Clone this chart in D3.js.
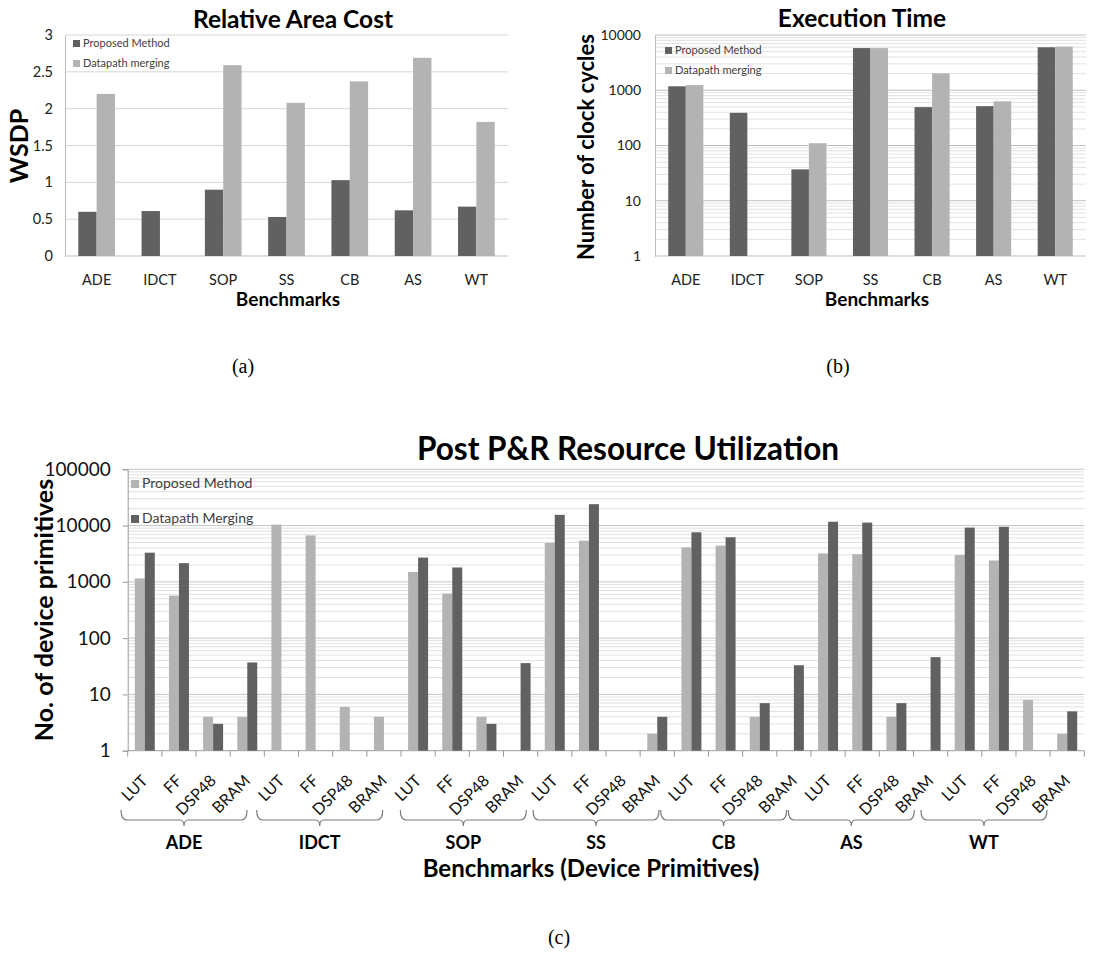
<!DOCTYPE html>
<html><head><meta charset="utf-8">
<script src="https://cdn.jsdelivr.net/npm/d3@7"></script>
<style>
body{margin:0;background:#fff;}
svg{display:block;font-family:Lato,"Open Sans",sans-serif;}
</style></head>
<body><svg id="c" width="1107" height="955"></svg>
<script>
// ---------- data ----------
const benchmarks = ["ADE","IDCT","SOP","SS","CB","AS","WT"];
const areaProposed = [0.60, 0.61, 0.90, 0.53, 1.03, 0.62, 0.67];
const areaDatapath = [2.20, 0, 2.59, 2.08, 2.37, 2.69, 1.82];
const areaTicks = [0, 0.5, 1, 1.5, 2, 2.5, 3];
const timeProposed = [1180, 390, 37, 5800, 495, 515, 6000];
const timeDatapath = [1240, null, 110, 5800, 2020, 630, 6150];
const timeTicks = [1, 10, 100, 1000, 10000];
const primitives = ["LUT","FF","DSP48","BRAM"];
const resProposed = [
  [1150, 570, 4, 4],
  [10400, 6700, 6, 4],
  [1500, 620, 4, null],
  [4900, 5400, null, 2],
  [4100, 4400, 4, null],
  [3200, 3100, 4, null],
  [3000, 2400, 8, 2]
];
const resDatapath = [
  [3300, 2150, 3, 37],
  [null, null, null, null],
  [2700, 1800, 3, 36],
  [15500, 24000, null, 4],
  [7600, 6200, 7, 33],
  [11700, 11300, 7, 46],
  [9200, 9500, null, 5]
];
const resTicks = [1, 10, 100, 1000, 10000, 100000];
const bracketShift = [-12, -13, -6, -10, -19, -28, -32];

const DARK = "#616161", LIGHT = "#b3b3b3";
const svg = d3.select("#c");

function legend(g, x, y, gap, size, fs, items){
  items.forEach((it, i) => {
    g.append("rect").attr("x", x).attr("y", y + i*gap - size).attr("width", size).attr("height", size).attr("fill", it.c);
    g.append("text").attr("x", x + size + 3).attr("y", y + i*gap).attr("font-size", fs).attr("fill", "#404040").text(it.t);
  });
}

// ---------- (a) Relative Area Cost ----------
(function(){
  const L = 65, R = 508, T = 35, B = 256;
  const g = svg.append("g");
  const x = d3.scaleBand().domain(benchmarks).range([L, R]).paddingInner(0.42).paddingOuter(0.21);
  const xs = d3.scaleBand().domain([0,1]).range([0, x.bandwidth()]);
  const y = d3.scaleLinear().domain([0, 3]).range([B, T]);
  g.append("g").selectAll("line").data(areaTicks.slice(1)).join("line")
    .attr("x1", L).attr("x2", R).attr("y1", d => y(d)).attr("y2", d => y(d)).attr("stroke", "#d6d6d6");
  const ya = g.append("g").attr("transform", `translate(${L},0)`).call(d3.axisLeft(y).tickValues(areaTicks).tickSize(0).tickPadding(12).tickFormat(d3.format("")));
  ya.select(".domain").attr("stroke", "#bdbdbd");
  ya.selectAll("text").attr("font-size", 14.5).attr("fill", "#222").attr("font-family", "Lato");
  g.append("line").attr("x1", L).attr("x2", R).attr("y1", B).attr("y2", B).attr("stroke", "#bdbdbd");
  benchmarks.forEach((b, i) => {
    [[areaProposed[i], DARK], [areaDatapath[i], LIGHT]].forEach(([v, c], k) => {
      if (v) g.append("rect").attr("x", x(b) + xs(k)).attr("width", xs.bandwidth()).attr("y", y(v)).attr("height", y(0) - y(v)).attr("fill", c);
    });
  });
  const xa = g.append("g").attr("transform", `translate(0,${B})`).call(d3.axisBottom(x).tickSize(0).tickPadding(19));
  xa.select(".domain").remove();
  xa.selectAll("text").attr("font-size", 14.5).attr("fill", "#222").attr("font-family", "Lato");
  g.append("text").attr("x", 288).attr("y", 306).attr("text-anchor", "middle").attr("font-size", 19).attr("font-weight", "bold").text("Benchmarks");
  g.append("text").attr("x", 293).attr("y", 28).attr("text-anchor", "middle").attr("font-size", 24.5).attr("font-weight", "bold").text("Relative Area Cost");
  g.append("text").attr("transform", "translate(28,146) rotate(-90)").attr("text-anchor", "middle").attr("font-size", 25).attr("font-weight", "bold").text("WSDP");
  legend(g, 73, 47, 20, 7, 11, [{t:"Proposed Method", c:DARK}, {t:"Datapath merging", c:LIGHT}]);
  g.append("text").attr("x", 243).attr("y", 373).attr("text-anchor", "middle").attr("font-family", "Liberation Serif").attr("font-size", 20).text("(a)");
})();

// ---------- (b) Execution Time ----------
(function(){
  const L = 655, R = 1086, T = 35, B = 256;
  const g = svg.append("g");
  const x = d3.scaleBand().domain(benchmarks).range([L, R]).paddingInner(0.43).paddingOuter(0.215);
  const xs = d3.scaleBand().domain([0,1]).range([0, x.bandwidth()]);
  const y = d3.scaleLog().domain([1, 10000]).range([B, T]);
  const minor = [];
  for (let d = 1; d < 10000; d *= 10) for (let m = 2; m <= 9; m++) minor.push(d*m);
  g.append("g").selectAll("line").data(minor).join("line")
    .attr("x1", L).attr("x2", R).attr("y1", d => y(d)).attr("y2", d => y(d)).attr("stroke", "#e2e2e2");
  g.append("g").selectAll("line").data(timeTicks.slice(1)).join("line")
    .attr("x1", L).attr("x2", R).attr("y1", d => y(d)).attr("y2", d => y(d)).attr("stroke", "#bfbfbf");
  const ya = g.append("g").attr("transform", `translate(${L},0)`).call(d3.axisLeft(y).tickValues(timeTicks).tickSize(0).tickPadding(14).tickFormat(d3.format("d")));
  ya.select(".domain").attr("stroke", "#bdbdbd");
  ya.selectAll("text").attr("font-size", 14).attr("fill", "#222").attr("font-family", "Lato");
  g.append("line").attr("x1", L).attr("x2", R).attr("y1", B).attr("y2", B).attr("stroke", "#bdbdbd");
  benchmarks.forEach((b, i) => {
    [[timeProposed[i], DARK], [timeDatapath[i], LIGHT]].forEach(([v, c], k) => {
      if (v) g.append("rect").attr("x", x(b) + xs(k)).attr("width", xs.bandwidth()).attr("y", y(v)).attr("height", y(1) - y(v)).attr("fill", c);
    });
  });
  const xa = g.append("g").attr("transform", `translate(0,${B})`).call(d3.axisBottom(x).tickSize(0).tickPadding(19));
  xa.select(".domain").remove();
  xa.selectAll("text").attr("font-size", 14.5).attr("fill", "#222").attr("font-family", "Lato");
  g.append("text").attr("x", 877).attr("y", 306).attr("text-anchor", "middle").attr("font-size", 19).attr("font-weight", "bold").text("Benchmarks");
  g.append("text").attr("x", 862).attr("y", 27).attr("text-anchor", "middle").attr("font-size", 24.5).attr("font-weight", "bold").text("Execution Time");
  g.append("text").attr("transform", "translate(594,147) rotate(-90)").attr("text-anchor", "middle").attr("font-size", 22).attr("font-weight", "bold").text("Number of clock cycles");
  legend(g, 665, 54, 20, 7, 11, [{t:"Proposed Method", c:DARK}, {t:"Datapath merging", c:LIGHT}]);
  g.append("text").attr("x", 838).attr("y", 373).attr("text-anchor", "middle").attr("font-family", "Liberation Serif").attr("font-size", 20).text("(b)");
})();

// ---------- (c) Post P&R Resource Utilization ----------
(function(){
  const L = 127.7, R = 1084.3, T = 469.3, B = 750.7;
  const g = svg.append("g");
  const cats = [];
  benchmarks.forEach(b => primitives.forEach(p => cats.push(b + "|" + p)));
  const x = d3.scaleBand().domain(cats).range([L, R]).paddingInner(0.415).paddingOuter(0.2075);
  const xb = d3.scaleBand().domain(cats).range([L, R]);
  const xs = d3.scaleBand().domain([0,1]).range([0, x.bandwidth()]);
  const y = d3.scaleLog().domain([1, 100000]).range([B, T]);
  const minor = [];
  for (let d = 1; d < 100000; d *= 10) for (let m = 2; m <= 9; m++) minor.push(d*m);
  g.append("g").selectAll("line").data(minor).join("line")
    .attr("x1", L).attr("x2", R).attr("y1", d => y(d)).attr("y2", d => y(d)).attr("stroke", "#e0e0e0");
  g.append("g").selectAll("line").data(resTicks.slice(1)).join("line")
    .attr("x1", L).attr("x2", R).attr("y1", d => y(d)).attr("y2", d => y(d)).attr("stroke", "#c4c4c4");
  const ya = g.append("g").attr("transform", `translate(${L},0)`).call(d3.axisLeft(y).tickValues(resTicks).tickSize(5).tickPadding(12).tickFormat(d3.format("d")));
  ya.select(".domain").attr("stroke", "#9a9a9a");
  ya.selectAll(".tick line").attr("stroke", "#9a9a9a");
  ya.selectAll("text").attr("font-size", 19).attr("fill", "#111").attr("font-family", "Lato");
  // bottom axis with tick marks at band boundaries
  g.append("line").attr("x1", L).attr("x2", R).attr("y1", B).attr("y2", B).attr("stroke", "#9a9a9a");
  g.append("g").selectAll("line").data(cats.concat(["end"])).join("line")
    .attr("x1", (d, i) => i < cats.length ? xb(d) : R).attr("x2", (d, i) => i < cats.length ? xb(d) : R)
    .attr("y1", B).attr("y2", B + 6).attr("stroke", "#9a9a9a");
  benchmarks.forEach((b, i) => {
    primitives.forEach((p, j) => {
      const key = b + "|" + p;
      [[resProposed[i][j], LIGHT], [resDatapath[i][j], DARK]].forEach(([v, c], k) => {
        if (v) g.append("rect").attr("x", x(key) + xs(k)).attr("width", xs.bandwidth()).attr("y", y(v)).attr("height", y(1) - y(v)).attr("fill", c);
      });
    });
  });
  // rotated primitive labels
  g.append("g").selectAll("text").data(cats).join("text")
    .attr("transform", d => `translate(${xb(d) + xb.bandwidth()/2 + 4},${B + 31}) rotate(-45)`)
    .attr("text-anchor", "end").attr("font-size", 16).attr("fill", "#111")
    .text(d => d.split("|")[1]);
  // brackets and group labels
  benchmarks.forEach((b, i) => {
    const c0 = xb(b + "|LUT"), c1 = xb(b + "|BRAM") + xb.bandwidth();
    const cx = (c0 + c1) / 2 + bracketShift[i];
    const l = cx - 63, r = cx + 63, yt = 810, yh = 820;
    g.append("path").attr("fill", "none").attr("stroke", "#7a7a7a").attr("stroke-width", 1.2)
      .attr("d", `M${l},${yt} Q${l},${yh} ${l+6},${yh} H${cx-4} Q${cx},${yh} ${cx},${yh+6} Q${cx},${yh} ${cx+4},${yh} H${r-6} Q${r},${yh} ${r},${yt}`);
    g.append("text").attr("x", cx).attr("y", 849).attr("text-anchor", "middle").attr("font-size", 18).attr("font-weight", "bold").text(b);
  });
  g.append("text").attr("x", 591).attr("y", 877).attr("text-anchor", "middle").attr("font-size", 24).attr("font-weight", "bold").text("Benchmarks (Device Primitives)");
  g.append("text").attr("x", 628).attr("y", 460).attr("text-anchor", "middle").attr("font-size", 31.5).attr("font-weight", "bold").text("Post P&R Resource Utilization");
  g.append("text").attr("transform", "translate(53,610) rotate(-90)").attr("text-anchor", "middle").attr("font-size", 25).attr("font-weight", "bold").text("No. of device primitives");
  legend(g, 131, 488, 35, 8, 14, [{t:"Proposed Method", c:LIGHT}, {t:"Datapath Merging", c:DARK}]);
  g.append("text").attr("x", 559).attr("y", 944).attr("text-anchor", "middle").attr("font-family", "Liberation Serif").attr("font-size", 20).text("(c)");
})();
</script></body></html>
